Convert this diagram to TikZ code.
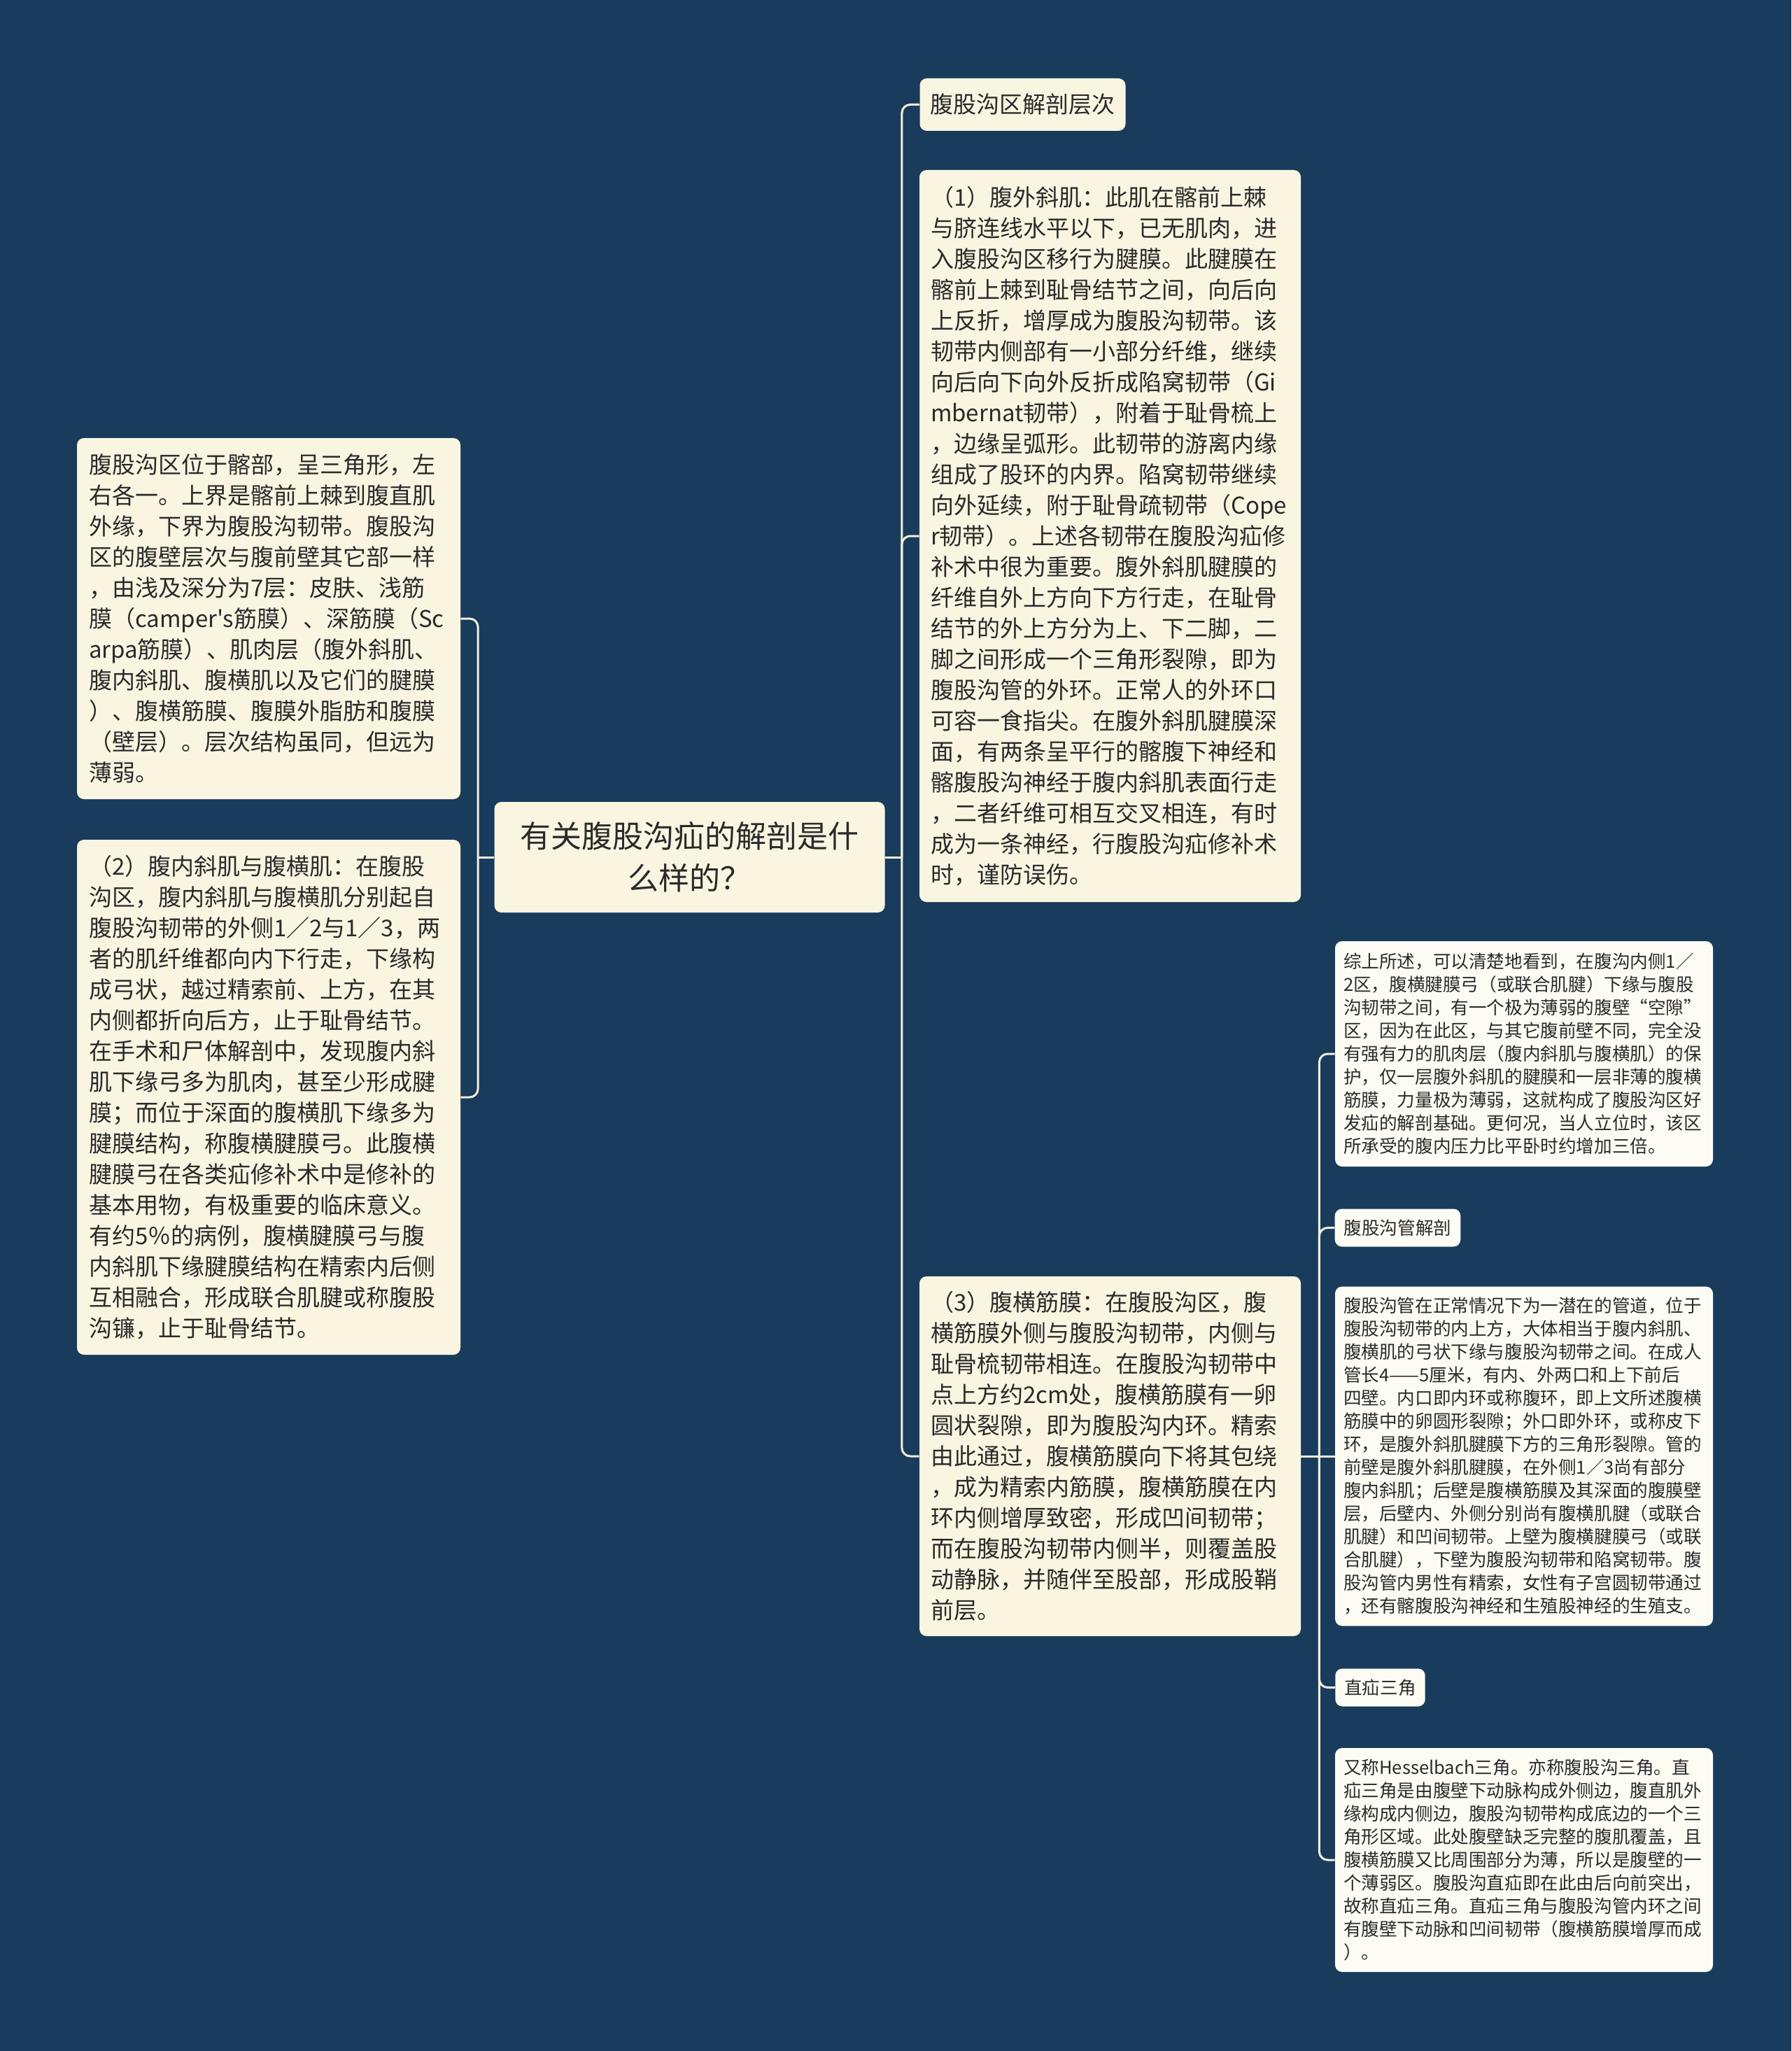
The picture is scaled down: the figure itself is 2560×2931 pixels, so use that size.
\documentclass[tikz,border=0pt]{standalone}
\usepackage{fontspec}
\newfontfamily\cjk{Noto Sans CJK SC}
\definecolor{mapbg}{HTML}{193C5C}
\definecolor{cream}{HTML}{FAF5E1}
\definecolor{paper}{HTML}{FDFCF4}
\definecolor{ink}{HTML}{2A2A2A}
\definecolor{wire}{HTML}{F3EFDD}

\tikzset{
		topic/.style   = {shape=rectangle, rounded corners=5pt,
				fill=cream, text=ink, align=left, inner ysep=0pt,
				font=\cjk\fontsize{16.5}{22}\selectfont},
		root/.style    = {topic, align=center, text width=263pt, inner xsep=8pt,
				font=\cjk\fontsize{22}{30}\selectfont},
		sidebox/.style = {topic, text width=257pt, inner xsep=8.5pt},
		mainbox/.style = {topic, text width=256.5pt, inner xsep=8pt},
		heading/.style = {topic, inner xsep=7.5pt, minimum height=37.5pt},
		leafbox/.style = {topic, fill=paper, text width=258pt, inner xsep=6pt,
				font=\cjk\fontsize{12.8}{16.5}\selectfont},
		leafhead/.style = {topic, fill=paper, inner xsep=6.5pt, minimum height=27pt,
				font=\cjk\fontsize{12.8}{16.5}\selectfont},
		link/.style    = {draw=wire, line width=1.5pt, rounded corners=6pt}
	}

\begin{document}
\begin{tikzpicture}[x=0.5pt, y=-0.5pt]
		\fill[mapbg] (0,0) rectangle (2560,2931);
		\useasboundingbox (0,0) rectangle (2560,2931);

		% centre
		\node[root, minimum height=79pt] (root) at (985.5,1225) {有关腹股沟疝的解剖是什\\么样的？};

		% left side
		\node[sidebox, minimum height=258pt] (layers) at (384,884) {腹股沟区位于髂部，呈三角形，左\\右各一。上界是髂前上棘到腹直肌\\外缘，下界为腹股沟韧带。腹股沟\\区的腹壁层次与腹前壁其它部一样\\，由浅及深分为7层：皮肤、浅筋\\膜（camper's筋膜）、深筋膜（Sc\\arpa筋膜）、肌肉层（腹外斜肌、\\腹内斜肌、腹横肌以及它们的腱膜\\）、腹横筋膜、腹膜外脂肪和腹膜\\（壁层）。层次结构虽同，但远为\\薄弱。};
		\node[sidebox, minimum height=368pt] (inner) at (384,1568) {（2）腹内斜肌与腹横肌：在腹股\\沟区，腹内斜肌与腹横肌分别起自\\腹股沟韧带的外侧1／2与1／3，两\\者的肌纤维都向内下行走，下缘构\\成弓状，越过精索前、上方，在其\\内侧都折向后方，止于耻骨结节。\\在手术和尸体解剖中，发现腹内斜\\肌下缘弓多为肌肉，甚至少形成腱\\膜；而位于深面的腹横肌下缘多为\\腱膜结构，称腹横腱膜弓。此腹横\\腱膜弓在各类疝修补术中是修补的\\基本用物，有极重要的临床意义。\\有约5％的病例，腹横腱膜弓与腹\\内斜肌下缘腱膜结构在精索内后侧\\互相融合，形成联合肌腱或称腹股\\沟镰，止于耻骨结节。};

		% right side
		\node[heading] (levels) at (1461.5,149.5) {腹股沟区解剖层次};
		\node[mainbox, minimum height=523pt] (outer) at (1586.5,766) {（1）腹外斜肌：此肌在髂前上棘\\与脐连线水平以下，已无肌肉，进\\入腹股沟区移行为腱膜。此腱膜在\\髂前上棘到耻骨结节之间，向后向\\上反折，增厚成为腹股沟韧带。该\\韧带内侧部有一小部分纤维，继续\\向后向下向外反折成陷窝韧带（Gi\\mbernat韧带），附着于耻骨梳上\\，边缘呈弧形。此韧带的游离内缘\\组成了股环的内界。陷窝韧带继续\\向外延续，附于耻骨疏韧带（Cope\\r韧带）。上述各韧带在腹股沟疝修\\补术中很为重要。腹外斜肌腱膜的\\纤维自外上方向下方行走，在耻骨\\结节的外上方分为上、下二脚，二\\脚之间形成一个三角形裂隙，即为\\腹股沟管的外环。正常人的外环口\\可容一食指尖。在腹外斜肌腱膜深\\面，有两条呈平行的髂腹下神经和\\髂腹股沟神经于腹内斜肌表面行走\\，二者纤维可相互交叉相连，有时\\成为一条神经，行腹股沟疝修补术\\时，谨防误伤。};
		\node[mainbox, minimum height=257pt] (fascia) at (1586.5,2081) {（3）腹横筋膜：在腹股沟区，腹\\横筋膜外侧与腹股沟韧带，内侧与\\耻骨梳韧带相连。在腹股沟韧带中\\点上方约2cm处，腹横筋膜有一卵\\圆状裂隙，即为腹股沟内环。精索\\由此通过，腹横筋膜向下将其包绕\\，成为精索内筋膜，腹横筋膜在内\\环内侧增厚致密，形成凹间韧带；\\而在腹股沟韧带内侧半，则覆盖股\\动静脉，并随伴至股部，形成股鞘\\前层。};

		% far right
		\node[leafbox, minimum height=161pt] (summary) at (2178,1506) {综上所述，可以清楚地看到，在腹沟内侧1／\\2区，腹横腱膜弓（或联合肌腱）下缘与腹股\\沟韧带之间，有一个极为薄弱的腹壁“空隙”\\区，因为在此区，与其它腹前壁不同，完全没\\有强有力的肌肉层（腹内斜肌与腹横肌）的保\\护，仅一层腹外斜肌的腱膜和一层非薄的腹横\\筋膜，力量极为薄弱，这就构成了腹股沟区好\\发疝的解剖基础。更何况，当人立位时，该区\\所承受的腹内压力比平卧时约增加三倍。};
		\node[leafhead] (canalhead) at (1997.5,1754.5) {腹股沟管解剖};
		\node[leafbox, minimum height=242.5pt] (canal) at (2178,2081) {腹股沟管在正常情况下为一潜在的管道，位于\\腹股沟韧带的内上方，大体相当于腹内斜肌、\\腹横肌的弓状下缘与腹股沟韧带之间。在成人\\管长4——5厘米，有内、外两口和上下前后\\四壁。内口即内环或称腹环，即上文所述腹横\\筋膜中的卵圆形裂隙；外口即外环，或称皮下\\环，是腹外斜肌腱膜下方的三角形裂隙。管的\\前壁是腹外斜肌腱膜，在外侧1／3尚有部分\\腹内斜肌；后壁是腹横筋膜及其深面的腹膜壁\\层，后壁内、外侧分别尚有腹横肌腱（或联合\\肌腱）和凹间韧带。上壁为腹横腱膜弓（或联\\合肌腱），下壁为腹股沟韧带和陷窝韧带。腹\\股沟管内男性有精索，女性有子宫圆韧带通过\\，还有髂腹股沟神经和生殖股神经的生殖支。};
		\node[leafhead] (trihead) at (1972.5,2411.5) {直疝三角};
		\node[leafbox, minimum height=160pt] (triangle) at (2178,2658) {又称Hesselbach三角。亦称腹股沟三角。直\\疝三角是由腹壁下动脉构成外侧边，腹直肌外\\缘构成内侧边，腹股沟韧带构成底边的一个三\\角形区域。此处腹壁缺乏完整的腹肌覆盖，且\\腹横筋膜又比周围部分为薄，所以是腹壁的一\\个薄弱区。腹股沟直疝即在此由后向前突出，\\故称直疝三角。直疝三角与腹股沟管内环之间\\有腹壁下动脉和凹间韧带（腹横筋膜增厚而成\\）。};

		% connectors
		\coordinate (lbus) at ([xshift=-11.5pt]root.west);
		\coordinate (rbus) at ([xshift=12pt]root.east);
		\coordinate (fbus) at ([xshift=13pt]fascia.east);
		\draw[link] (root.west) -- (lbus);
		\draw[link] (lbus) |- (layers.east);
		\draw[link] (lbus) |- (inner.east);
		\draw[link] (root.east) -- (rbus);
		\draw[link] (rbus) |- (levels.west);
		\draw[link] (rbus) |- (outer.west);
		\draw[link] (rbus) |- (fascia.west);
		\draw[link] (fascia.east) -- (canal.west);
		\draw[link] (fbus) |- (summary.west);
		\draw[link] (fbus) |- (canalhead.west);
		\draw[link] (fbus) |- (trihead.west);
		\draw[link] (fbus) |- (triangle.west);
	\end{tikzpicture}
\end{document}
